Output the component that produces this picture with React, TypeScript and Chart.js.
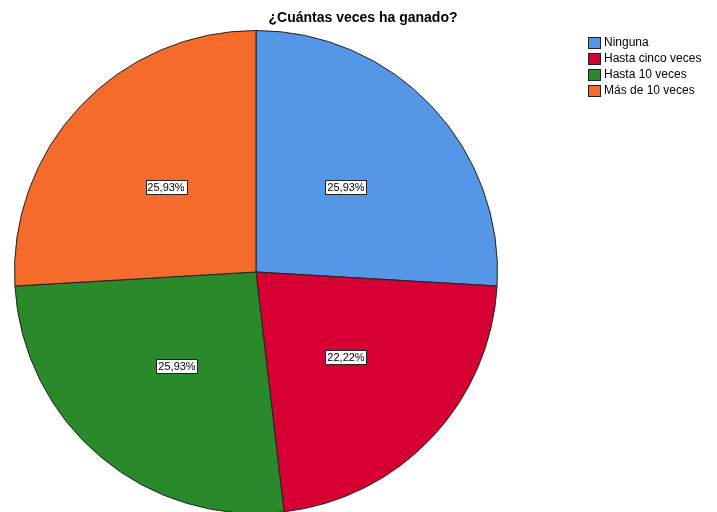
import React, { useEffect, useRef } from "react";
import { Chart, registerables } from "chart.js";

Chart.register(...registerables);

const title = "¿Cuántas veces ha ganado?";
const categories = ["Ninguna", "Hasta cinco veces", "Hasta 10 veces", "Más de 10 veces"];
const counts = [7, 6, 7, 7];
const colors = ["#5597e6", "#d60032", "#2a892a", "#f46b2c"];

const W = 717;
const H = 520;

const overlay = {
  id: "overlay",
  afterDraw(chart: any) {
    const ctx = chart.ctx as CanvasRenderingContext2D;
    const total = counts.reduce((a, b) => a + b, 0);
    ctx.save();
    // title
    ctx.font = "bold 14px 'Liberation Sans', Arial, sans-serif";
    ctx.fillStyle = "#000";
    ctx.textAlign = "center";
    ctx.textBaseline = "middle";
    ctx.fillText(title, 363, 18);
    // legend
    ctx.font = "12px 'Liberation Sans', Arial, sans-serif";
    ctx.textAlign = "left";
    categories.forEach((c, i) => {
      const y = 37 + i * 16;
      ctx.fillStyle = colors[i];
      ctx.fillRect(588, y, 12, 11);
      ctx.strokeStyle = "#222";
      ctx.lineWidth = 1;
      ctx.strokeRect(588.5, y + 0.5, 12, 11);
      ctx.fillStyle = "#000";
      ctx.fillText(c, 604, y + 6);
    });
    // slice labels
    const meta = chart.getDatasetMeta(0);
    ctx.font = "11px 'Liberation Sans', Arial, sans-serif";
    ctx.textAlign = "center";
    meta.data.forEach((arc: any, i: number) => {
      const p = arc.getProps(["x", "y", "startAngle", "endAngle", "outerRadius"], true);
      const mid = (p.startAngle + p.endAngle) / 2;
      const r = p.outerRadius * 0.51;
      const cx = p.x + Math.cos(mid) * r;
      const cy = p.y + Math.sin(mid) * r;
      const txt = ((counts[i] / total) * 100).toFixed(2).replace(".", ",") + "%";
      const tw = ctx.measureText(txt).width;
      const bw = Math.round(tw + 4);
      const bh = 14;
      const bx = Math.round(cx - bw / 2) + 0.5;
      const by = Math.round(cy - bh / 2) + 0.5;
      ctx.fillStyle = "#fff";
      ctx.fillRect(bx, by, bw, bh);
      ctx.strokeStyle = "#222";
      ctx.strokeRect(bx, by, bw, bh);
      ctx.fillStyle = "#000";
      ctx.fillText(txt, Math.round(cx), Math.round(cy) + 1);
    });
    ctx.restore();
  },
};

export default function App() {
  const ref = useRef<HTMLCanvasElement>(null);
  useEffect(() => {
    document.body.style.margin = "0";
    document.body.style.overflow = "hidden";
    const chart = new Chart(ref.current!, {
      type: "pie",
      data: {
        labels: categories,
        datasets: [
          {
            data: counts,
            backgroundColor: colors,
            borderColor: "#222",
            borderWidth: 1,
          },
        ],
      },
      options: {
        animation: false,
        responsive: false,
        maintainAspectRatio: false,
        layout: { padding: { left: 14, top: 30, right: W - 498, bottom: H - 514 } },
        plugins: {
          legend: { display: false },
          title: { display: false },
          tooltip: { enabled: false },
        },
      },
      plugins: [overlay],
    });
    return () => chart.destroy();
  }, []);
  return (
    <div style={{ position: "absolute", left: 0, top: 0, width: W, height: H, background: "#fff" }}>
      <canvas ref={ref} width={W} height={H} style={{ width: W, height: H }} />
    </div>
  );
}
